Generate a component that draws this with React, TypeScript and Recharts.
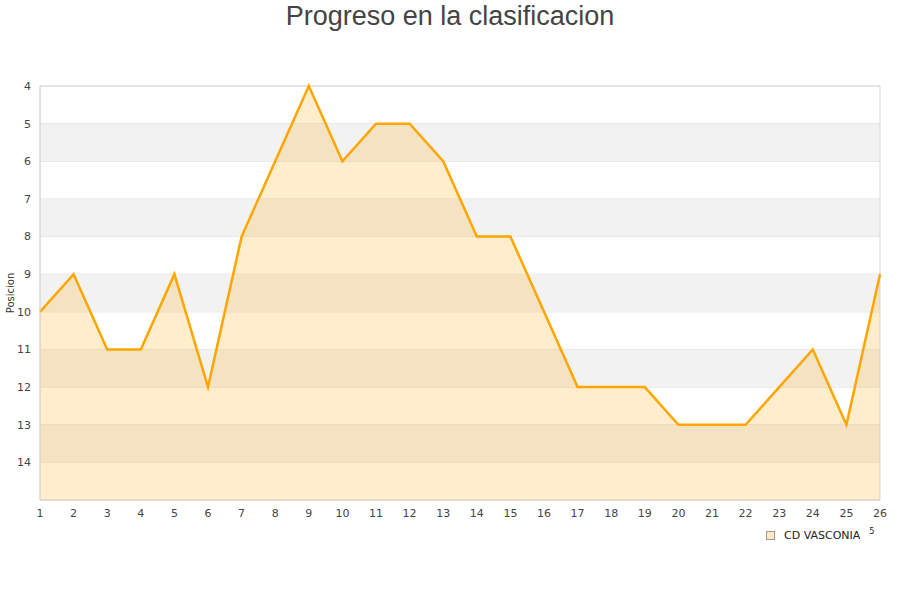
import {
  AreaChart,
  Area,
  XAxis,
  YAxis,
  CartesianGrid,
  ReferenceArea,
} from "recharts";

const rounds = [
  "1", "2", "3", "4", "5", "6", "7", "8", "9", "10", "11", "12", "13",
  "14", "15", "16", "17", "18", "19", "20", "21", "22", "23", "24", "25", "26",
];
const positions = [
  10, 9, 11, 11, 9, 12, 8, 6, 4, 6, 5, 5, 6, 8, 8, 10, 12, 12, 12, 13, 13, 13,
  12, 11, 13, 9,
];
const yTicks = [4, 5, 6, 7, 8, 9, 10, 11, 12, 13, 14];
const bands = [
  [5, 6],
  [7, 8],
  [9, 10],
  [11, 12],
  [13, 14],
];
const seriesName = "CD VASCONIA";

const data = rounds.map((r, i) => ({ round: r, pos: positions[i] }));

const tickStyle = { fontFamily: "DejaVu Sans", fontSize: 11, fill: "#444" };

function LegendBox() {
  return (
    <div
      style={{
        position: "absolute",
        left: 766,
        top: 529,
        display: "flex",
        alignItems: "center",
        fontFamily: "DejaVu Sans",
        fontSize: 11,
        color: "#222",
      }}
    >
      <span
        style={{
          display: "inline-block",
          width: 7,
          height: 7,
          background: "#ffe9c2",
          border: "1px solid #999",
          marginRight: 9,
        }}
      />
      {seriesName}
      <span style={{ fontSize: 8, marginLeft: 9, marginTop: -8 }}>5</span>
    </div>
  );
}

export default function App() {
  return (
    <div style={{ position: "absolute", left: 0, top: 0, width: 900, height: 600, background: "#fff" }}>
      <div
        style={{
          position: "absolute",
          top: 0,
          width: 900,
          textAlign: "center",
          fontFamily: "Liberation Sans",
          fontSize: 27,
          color: "#444",
          lineHeight: "32px",
        }}
      >
        Progreso en la clasificacion
      </div>
      <AreaChart
        width={900}
        height={600}
        data={data}
        margin={{ top: 86, right: 20, bottom: 70, left: 0 }}
      >
        {bands.map(([a, b]) => (
          <ReferenceArea key={a} y1={a} y2={b} fill="#f2f2f2" fillOpacity={1} stroke="none" />
        ))}
        <CartesianGrid vertical={false} stroke="#e0e0e0" />
        <XAxis
          dataKey="round"
          height={30}
          tickLine={false}
          tickMargin={3}
          axisLine={{ stroke: "#d8d8d8" }}
          tick={tickStyle}
          interval={0}
        />
        <YAxis
          reversed
          type="number"
          domain={[4, 15]}
          ticks={yTicks}
          width={40}
          tickLine={false}
          tickMargin={3}
          axisLine={{ stroke: "#d8d8d8" }}
          tick={tickStyle}
          label={{
            value: "Posicion",
            angle: -90,
            position: "insideLeft",
            offset: 10,
            style: { fontFamily: "DejaVu Sans", fontSize: 10, fill: "#333", textAnchor: "middle" },
          }}
        />
        <ReferenceArea
          x1="1"
          x2="26"
          y1={4}
          y2={15}
          fill="none"
          stroke="#d8d8d8"
          strokeWidth={1}
        />
        <Area
          type="linear"
          dataKey="pos"
          name={seriesName}
          baseValue={15}
          stroke="#ffa500"
          strokeWidth={2.5}
          fill="#ffa500"
          fillOpacity={0.2}
          dot={false}
          activeDot={false}
          isAnimationActive={false}
        />
      </AreaChart>
      <LegendBox />
    </div>
  );
}
